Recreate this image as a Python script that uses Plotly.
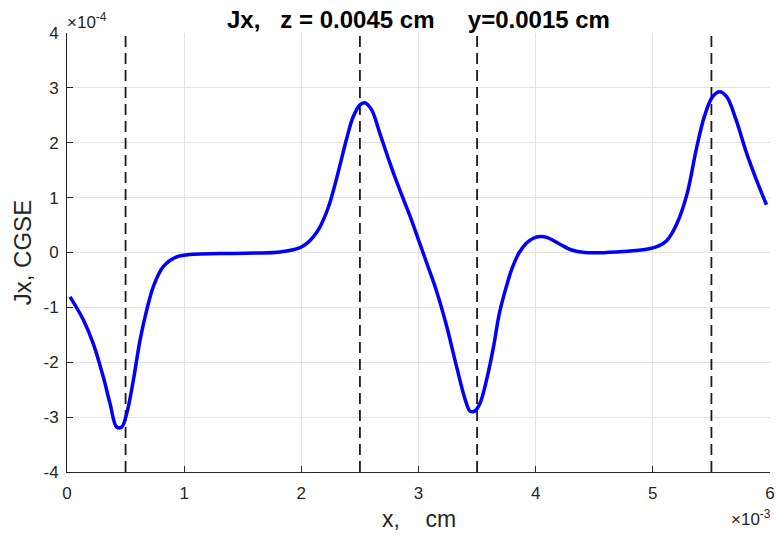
import plotly.graph_objects as go

# Jx profile along x (x in units of 1e-3 cm, Jx in units of 1e-4 CGSE)
x_vals = [0.026, 0.14, 0.224, 0.31, 0.367, 0.424, 0.467, 0.51, 0.566, 0.623, 0.68, 0.737,
          0.82, 0.936, 1.08, 1.3, 1.6, 1.82, 1.99, 2.05, 2.10, 2.15, 2.23, 2.29, 2.34, 2.39,
          2.44, 2.50, 2.54, 2.60, 2.67, 2.756, 2.84, 2.93, 3.01, 3.08, 3.155, 3.24, 3.325,
          3.40, 3.44, 3.48, 3.524, 3.58, 3.64, 3.69, 3.75, 3.80, 3.86, 3.92, 3.98, 4.04,
          4.10, 4.20, 4.30, 4.42, 4.69, 4.97, 5.05, 5.12, 5.20, 5.29, 5.37, 5.44, 5.51, 5.57,
          5.63, 5.71, 5.80, 5.885, 5.97]
jx_vals = [-0.81, -1.23, -1.66, -2.27, -2.75, -3.18, -3.18, -2.93, -2.33, -1.60, -1.05, -0.62,
           -0.26, -0.08, -0.03, -0.02, -0.01, 0.01, 0.09, 0.17, 0.28, 0.43, 0.82, 1.26, 1.68,
           2.10, 2.46, 2.69, 2.73, 2.60, 2.17, 1.63, 1.14, 0.65, 0.17, -0.25, -0.71, -1.34,
           -2.08, -2.69, -2.89, -2.89, -2.75, -2.33, -1.72, -1.11, -0.62, -0.28, 0.0, 0.17,
           0.26, 0.29, 0.27, 0.16, 0.05, 0.0, 0.01, 0.07, 0.12, 0.22, 0.50, 1.05, 1.87, 2.48,
           2.84, 2.93, 2.84, 2.42, 1.81, 1.32, 0.87]

# Boundary positions marked with dashed lines
boundaries = [0.5, 2.5, 3.5, 5.5]

x_ticks = [0, 1, 2, 3, 4, 5, 6]
y_ticks = [-4, -3, -2, -1, 0, 1, 2, 3, 4]

FONT = "Liberation Sans, Arial, sans-serif"
TXT = "#262626"

fig = go.Figure()

for xb in boundaries:
    fig.add_trace(go.Scatter(
        x=[xb, xb], y=[-4, 4], mode="lines",
        line=dict(color="#1a1a1a", width=1.8, dash="11px,6px"),
        showlegend=False, hoverinfo="skip"))

fig.add_trace(go.Scatter(
    x=x_vals, y=jx_vals, mode="lines",
    line=dict(color="#0000FF", width=3.5, shape="spline", smoothing=1.0),
    showlegend=False))

axis_common = dict(
    showgrid=True, gridcolor="#e2e2e2", gridwidth=1,
    zeroline=False, showline=True, linecolor=TXT, linewidth=1,
    ticks="inside", ticklen=6, tickcolor=TXT,
    tickfont=dict(size=17, color=TXT, family=FONT),
    automargin=False,
)

fig.update_layout(
    width=776, height=535,
    margin=dict(l=67, r=6, t=33, b=63),
    paper_bgcolor="white", plot_bgcolor="white",
    font=dict(family=FONT, color=TXT, size=17),
    xaxis=dict(range=[0, 6], tickvals=x_ticks, ticktext=[str(t) for t in x_ticks],
               ticklabelstandoff=6, **axis_common),
    yaxis=dict(range=[-4, 4], tickvals=y_ticks, ticktext=[str(t) for t in y_ticks],
               ticklabelstandoff=4, **axis_common),
)

# Title and axis labels
fig.add_annotation(x=0.5, y=1.031, xref="paper", yref="paper", xanchor="center",
                   yanchor="middle", showarrow=False,
                   text="<b>Jx,   z = 0.0045 cm     y=0.0015 cm</b>",
                   font=dict(size=24, color="black", family=FONT))
fig.add_annotation(x=0.5, y=-0.108, xref="paper", yref="paper", xanchor="center",
                   yanchor="middle", showarrow=False, text="x,    cm",
                   font=dict(size=23, color=TXT, family=FONT))
fig.add_annotation(x=-0.063, y=0.5, xref="paper", yref="paper", xanchor="center",
                   yanchor="middle", showarrow=False, text="Jx, CGSE", textangle=-90,
                   font=dict(size=24, color=TXT, family=FONT))

# Axis exponent labels
fig.add_annotation(x=0, y=1, xref="paper", yref="paper", xanchor="left", yanchor="bottom",
                   text="×10<sup>-4</sup>", showarrow=False, yshift=-1, xshift=-2,
                   font=dict(size=17, color=TXT, family=FONT))
fig.add_annotation(x=1, y=-0.105, xref="paper", yref="paper", xanchor="right", yanchor="middle",
                   text="×10<sup>-3</sup>", showarrow=False, xshift=3,
                   font=dict(size=17, color=TXT, family=FONT))

fig.write_html("out.html")
